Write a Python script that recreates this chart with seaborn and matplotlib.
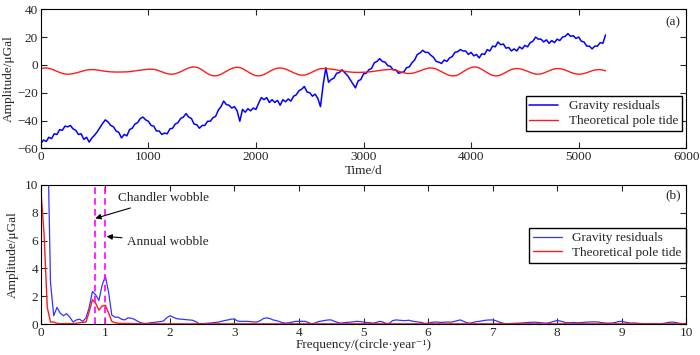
import numpy as np
import matplotlib
matplotlib.use("Agg")
import matplotlib.pyplot as plt
import seaborn as sns

# ---- panel (a): time series, one value every 25 days (0 .. 5250 d)
time_step = 25
gravity_res = [
    -56.5, -54.0, -55.0, -52.0, -53.0, -49.5, -50.0, -46.5, -47.0, -44.0,
    -44.5, -43.5, -46.0, -47.0, -50.0, -49.5, -53.5, -52.0, -55.5, -52.5,
    -50.5, -48.0, -45.0, -42.0, -39.5, -41.0, -43.5, -44.5, -47.5, -48.5,
    -52.5, -50.0, -51.0, -46.5, -45.5, -42.5, -41.5, -38.5, -37.5, -39.5,
    -40.5, -43.5, -44.0, -47.5, -47.5, -50.0, -49.0, -49.5, -46.0, -45.5,
    -42.5, -41.5, -38.5, -37.5, -35.0, -37.5, -38.5, -42.5, -43.0, -45.5,
    -43.5, -43.5, -40.5, -40.5, -38.0, -37.0, -32.5, -30.0, -26.0, -28.5,
    -29.0, -31.0, -30.0, -33.0, -40.5, -32.0, -34.0, -31.5, -33.0, -31.0,
    -32.0, -27.5, -23.5, -25.0, -23.5, -27.0, -25.0, -27.0, -25.5, -29.0,
    -25.0, -26.5, -24.5, -26.0, -22.5, -21.5, -18.5, -17.5, -15.5, -19.5,
    -20.0, -22.5, -21.0, -24.0, -30.0, -14.0, -2.0, -12.5, -10.5, -9.5,
    -6.0, -5.5, -3.5, -5.5, -7.5, -10.5, -13.5, -16.5, -11.5, -10.5,
    -6.5, -6.0, -3.5, -2.5, 1.5, 2.5, 4.5, 2.5, 2.0, -0.5,
    -1.0, -3.5, -3.5, -6.0, -5.5, -5.0, -2.0, -1.5, 1.5, 3.5,
    7.5, 8.5, 10.5, 9.0, 9.0, 7.0, 5.5, 2.5, 2.0, 1.0,
    3.5, 2.5, 5.0, 6.0, 9.0, 9.5, 11.0, 10.0, 10.0, 7.5,
    9.0, 6.5, 7.5, 5.0, 8.0, 7.5, 11.0, 10.0, 13.5, 13.0,
    16.5, 14.5, 15.0, 12.0, 12.5, 10.0, 11.5, 10.0, 13.0, 11.5,
    14.0, 13.0, 16.0, 17.0, 20.0, 18.5, 18.5, 16.5, 18.0, 15.5,
    17.5, 16.0, 18.5, 17.5, 20.0, 20.5, 22.5, 20.5, 21.0, 19.0,
    20.0, 17.0, 16.5, 13.5, 13.5, 11.5, 13.5, 13.5, 16.0, 15.5,
    21.5,
]
pole_tide = [
    -2.6, -2.3, -2.2, -2.5, -3.05, -3.8, -4.6, -5.4, -6.1, -6.55,
    -6.7, -6.6, -6.3, -5.85, -5.3, -4.7, -4.2, -3.7, -3.47, -3.4,
    -3.5, -3.7, -4.0, -4.3, -4.6, -4.8, -5.0, -5.1, -5.15, -5.15,
    -5.1, -5.05, -5.0, -4.85, -4.6, -4.35, -4.1, -3.8, -3.5, -3.3,
    -3.15, -3.1, -3.2, -3.6, -4.25, -4.95, -5.7, -6.3, -6.65, -6.7,
    -6.35, -5.7, -4.9, -3.95, -3.0, -2.2, -1.68, -1.5, -1.76, -2.5,
    -3.6, -5.0, -6.25, -7.25, -7.8, -7.9, -7.5, -6.7, -5.7, -4.6,
    -3.5, -2.6, -1.9, -1.7, -1.95, -2.65, -3.7, -4.9, -6.1, -7.1,
    -7.75, -7.9, -7.6, -6.9, -5.9, -4.8, -3.75, -2.9, -2.35, -2.2,
    -2.45, -3.0, -3.8, -4.7, -5.6, -6.4, -7.1, -7.4, -7.35, -6.85,
    -6.05, -5.1, -4.15, -3.3, -2.75, -2.6, -2.65, -2.8, -3.0, -3.3,
    -3.6, -3.9, -4.3, -4.6, -4.9, -5.1, -5.3, -5.35, -5.4, -5.35,
    -5.3, -5.2, -5.05, -4.85, -4.6, -4.3, -4.0, -3.7, -3.5, -3.35,
    -3.3, -3.45, -3.9, -4.5, -5.2, -5.7, -6.1, -6.2, -6.05, -5.65,
    -5.0, -4.3, -3.55, -2.9, -2.4, -2.2, -2.4, -3.0, -3.9, -4.9,
    -5.9, -6.9, -7.6, -7.9, -7.8, -7.3, -6.2, -5.0, -3.8, -2.7,
    -1.9, -1.5, -1.6, -2.2, -3.2, -4.4, -5.6, -6.7, -7.5, -7.9,
    -7.75, -7.2, -6.3, -5.3, -4.2, -3.3, -2.75, -2.6, -2.8, -3.2,
    -3.9, -4.6, -5.4, -6.1, -6.55, -6.7, -6.45, -5.9, -5.1, -4.25,
    -3.45, -2.85, -2.6, -2.7, -3.1, -3.7, -4.5, -5.3, -6.0, -6.5,
    -6.7, -6.55, -6.2, -5.6, -4.9, -4.2, -3.7, -3.45, -3.4, -3.7,
    -4.3,
]

# ---- panel (b): amplitude spectra, one value every 0.05 circle/year (0 .. 10)
freq_step = 0.05
spec_gravity = [
    40, 28, 15, 3.0, 0.6, 1.2, 0.8, 0.6, 0.75, 0.5,
    0.15, 0.3, 0.35, 0.2, 0.45, 1.2, 2.35, 2.1, 1.7, 2.8,
    3.45, 2.3, 0.65, 0.5, 0.5, 0.35, 0.3, 0.45, 0.42, 0.35,
    0.2, 0.1, 0.05, 0.05, 0.1, 0.12, 0.15, 0.18, 0.22, 0.45,
    0.6,
    0.5, 0.4, 0.36, 0.35, 0.32, 0.3, 0.28, 0.18, 0.04, 0.03,
    0.05, 0.07, 0.09, 0.12, 0.14, 0.2, 0.26, 0.3, 0.36, 0.36,
    0.22, 0.2, 0.2, 0.2, 0.18, 0.15, 0.15, 0.25, 0.4, 0.45,
    0.4, 0.3, 0.25, 0.18, 0.1, 0.07, 0.1, 0.15, 0.2, 0.2,
    0.2, 0.2, 0.1, 0.02, 0.08, 0.18, 0.22, 0.26, 0.3, 0.3,
    0.2, 0.12, 0.07, 0.1, 0.13, 0.14, 0.17, 0.2, 0.18, 0.14,
    0.12, 0.1, 0.07, 0.12, 0.2, 0.15, 0.05, 0.05, 0.25, 0.3,
    0.28, 0.26, 0.25, 0.28, 0.22, 0.18, 0.15, 0.12, 0.05, 0.07,
    0.12, 0.15, 0.14, 0.12, 0.14, 0.15, 0.14, 0.18, 0.25, 0.3,
    0.2, 0.1, 0.07, 0.12, 0.18, 0.2, 0.25, 0.28, 0.3, 0.3,
    0.25, 0.15, 0.08, 0.02, 0.03, 0.05, 0.06, 0.07, 0.08, 0.1,
    0.12, 0.13, 0.14, 0.12, 0.1, 0.07, 0.08, 0.12, 0.2, 0.26,
    0.22, 0.15, 0.1, 0.1, 0.12, 0.1, 0.1, 0.12, 0.14, 0.15,
    0.16, 0.16, 0.14, 0.1, 0.08, 0.07, 0.08, 0.12, 0.18, 0.2,
    0.15, 0.1, 0.07, 0.08, 0.06, 0.04, 0.02, 0.02, 0.03, 0.03,
    0.02, 0.02, 0.05, 0.1, 0.14, 0.14, 0.1, 0.05, 0.02, 0.05,
]
spec_pole = [
    9.7, 6.5, 1.2, 0.15, 0.15, 0.05, 0.03, 0.03, 0.04, 0.03,
    0.03, 0.06, 0.1, 0.12, 0.15, 0.9, 1.75, 1.5, 1.0, 1.3,
    1.35, 0.8, 0.2, 0.1, 0.06, 0.05, 0.05, 0.05, 0.04, 0.03,
    0.03, 0.02, 0.02, 0.02, 0.02, 0.02, 0.02, 0.02, 0.02, 0.02,
    0.02,
    0.02, 0.02, 0.02, 0.02, 0.02, 0.02, 0.02, 0.02, 0.02, 0.02,
    0.02, 0.02, 0.02, 0.02, 0.02, 0.02, 0.02, 0.02, 0.02, 0.02,
    0.02, 0.02, 0.02, 0.02, 0.02, 0.02, 0.02, 0.02, 0.02, 0.02,
    0.02, 0.02, 0.02, 0.02, 0.02, 0.02, 0.02, 0.02, 0.02, 0.02,
    0.02, 0.02, 0.02, 0.02, 0.02, 0.02, 0.02, 0.02, 0.02, 0.02,
    0.02, 0.02, 0.02, 0.02, 0.02, 0.02, 0.02, 0.02, 0.02, 0.02,
    0.02, 0.02, 0.02, 0.02, 0.02, 0.02, 0.02, 0.02, 0.02, 0.02,
    0.02, 0.02, 0.02, 0.02, 0.02, 0.02, 0.02, 0.02, 0.02, 0.02,
    0.02, 0.02, 0.02, 0.02, 0.02, 0.02, 0.02, 0.02, 0.02, 0.02,
    0.02, 0.02, 0.02, 0.02, 0.02, 0.02, 0.02, 0.02, 0.02, 0.02,
    0.02, 0.02, 0.02, 0.02, 0.02, 0.02, 0.02, 0.02, 0.02, 0.02,
    0.02, 0.02, 0.02, 0.02, 0.02, 0.02, 0.02, 0.02, 0.02, 0.02,
    0.02, 0.02, 0.02, 0.02, 0.02, 0.02, 0.02, 0.02, 0.02, 0.02,
    0.02, 0.02, 0.02, 0.02, 0.02, 0.02, 0.02, 0.02, 0.02, 0.02,
    0.02, 0.02, 0.02, 0.02, 0.02, 0.02, 0.02, 0.02, 0.02, 0.02,
    0.02, 0.02, 0.02, 0.02, 0.02, 0.02, 0.02, 0.02, 0.02, 0.02,
]
chandler_freq = 0.845
annual_freq = 1.0
series_names = ["Gravity residuals", "Theoretical pole tide"]

days = np.arange(len(gravity_res)) * time_step
freq = np.arange(len(spec_gravity)) * freq_step

sns.set_style("ticks")
plt.rcParams["font.family"] = ["Liberation Serif", "DejaVu Serif"]
plt.rcParams["font.size"] = 9.5
plt.rcParams["xtick.direction"] = "in"
plt.rcParams["ytick.direction"] = "in"

fig = plt.figure(figsize=(7, 3.55), dpi=100)
ax1 = fig.add_axes([0.0583, 0.582, 0.922, 0.392])
ax2 = fig.add_axes([0.0583, 0.087, 0.922, 0.392])

# (a)
sns.lineplot(x=days, y=gravity_res, ax=ax1, color="#0000ff", lw=1.1,
             label=series_names[0])
sns.lineplot(x=days, y=pole_tide, ax=ax1, color="#ff1a1a", lw=1.0,
             label=series_names[1])
ax1.set_xlim(0, 6000)
ax1.set_ylim(-60, 40)
ax1.set_xticks(range(0, 6001, 1000))
ax1.set_yticks(range(-60, 41, 20))
ax1.set_xlabel("Time/d", labelpad=1)
ax1.set_ylabel("Amplitude/μGal", labelpad=2)
ax1.text(0.98, 0.905, "(a)", transform=ax1.transAxes, ha="center", va="center")
ax1.legend(loc="lower left", bbox_to_anchor=(0.751, 0.124), borderaxespad=0,
           fancybox=False, edgecolor="black", framealpha=1,
           handlelength=2.2, borderpad=0.3, labelspacing=0.2)

# (b)
sns.lineplot(x=freq, y=spec_gravity, ax=ax2, color="#3333ff", lw=0.9,
             label=series_names[0])
sns.lineplot(x=freq, y=spec_pole, ax=ax2, color="#ff1a1a", lw=1.0,
             label=series_names[1])
ax2.axvline(chandler_freq, color="#ff00ff", ls="--", lw=1.2, dashes=(4, 2.5))
ax2.axvline(annual_freq, color="#ff00ff", ls="--", lw=1.2, dashes=(4, 2.5))
ax2.annotate("Chandler wobble", xy=(chandler_freq, 7.6), xytext=(1.19, 9.04),
             va="center", ha="left",
             arrowprops=dict(arrowstyle="-|>", color="black", lw=0.8,
                             mutation_scale=8, shrinkA=1, shrinkB=0))
ax2.annotate("Annual wobble", xy=(annual_freq + 0.02, 6.3), xytext=(1.33, 5.92),
             va="center", ha="left",
             arrowprops=dict(arrowstyle="-|>", color="black", lw=0.8,
                             mutation_scale=8, shrinkA=1, shrinkB=0))
ax2.set_xlim(0, 10)
ax2.set_ylim(0, 10)
ax2.set_xticks(range(0, 11))
ax2.set_yticks(range(0, 11, 2))
ax2.set_xlabel("Frequency/(circle·year⁻¹)", labelpad=0)
ax2.set_ylabel("Amplitude/μGal", labelpad=4)
ax2.text(0.98, 0.928, "(b)", transform=ax2.transAxes, ha="center", va="center")
ax2.legend(loc="lower left", bbox_to_anchor=(0.756, 0.439), borderaxespad=0,
           fancybox=False, edgecolor="black", framealpha=1,
           handlelength=2.2, borderpad=0.3, labelspacing=0.2)

for ax in (ax1, ax2):
    ax.tick_params(top=True, right=True, length=4, width=0.8, pad=2)
    for s in ax.spines.values():
        s.set_visible(True)
        s.set_color("black")
        s.set_linewidth(0.8)

fig.savefig("out.png", dpi=100)
